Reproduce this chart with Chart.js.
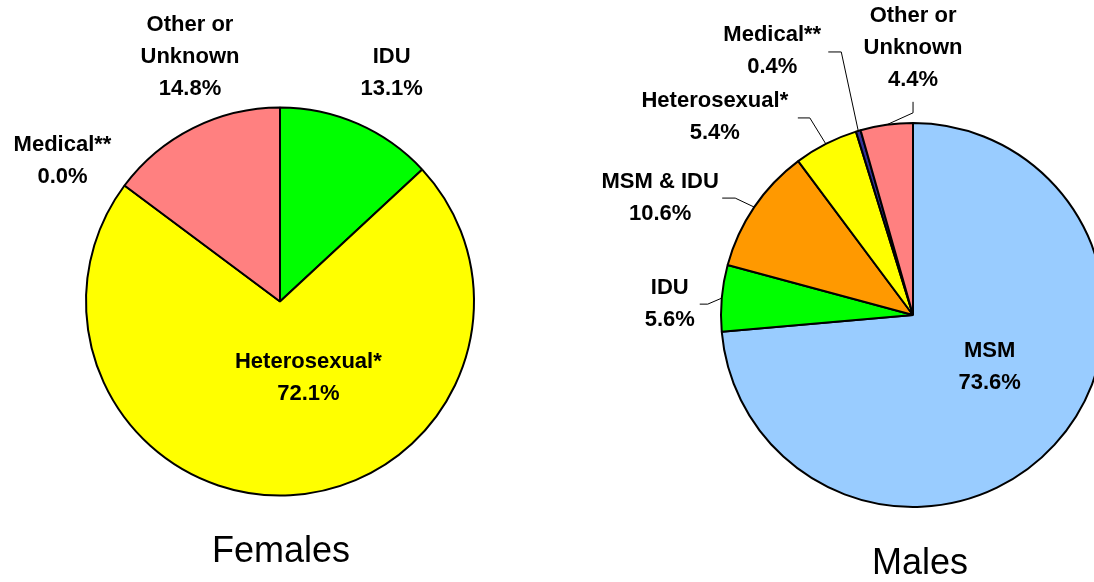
<!DOCTYPE html>
<html>
<head>
<meta charset="utf-8">
<script src="https://cdn.jsdelivr.net/npm/chart.js@4.4.0/dist/chart.umd.min.js"></script>
<style>
  html, body { margin: 0; padding: 0; width: 1094px; height: 582px; overflow: hidden; background: #fff; }
  .wrap { position: absolute; top: 0; }
  .caption {
    position: absolute; width: 200px; text-align: center; color: #000;
    font-family: "Liberation Sans", Arial, sans-serif; font-size: 36px; line-height: 36px;
  }
</style>
</head>
<body>
<div class="wrap" style="left:0"><canvas id="females" width="560" height="582"></canvas></div>
<div class="wrap" style="left:560px"><canvas id="males" width="706" height="582"></canvas></div>
<div class="caption" style="left:181px; top:532px">Females</div>
<div class="caption" style="left:820px; top:544px">Males</div>
<script>
// ---------- Data ----------
const femaleCategories = ["IDU", "Heterosexual*", "Medical**", "Other or\nUnknown"];
const femaleValues = [13.1, 72.1, 0.0, 14.8];

const maleCategories = ["MSM", "IDU", "MSM & IDU", "Heterosexual*", "Medical**", "Other or\nUnknown"];
const maleValues = [73.6, 5.6, 10.6, 5.4, 0.4, 4.4];

// ---------- Colours ----------
const sliceColors = {
  "MSM": "#99CCFF",
  "IDU": "#00FF00",
  "MSM & IDU": "#FF9900",
  "Heterosexual*": "#FFFF00",
  "Medical**": "#333399",
  "Other or\nUnknown": "#FF8080",
};

// label placement relative to the rim point at each slice's mid angle
const femalePlaces = [
  { dx: 34, dy: -51 },
  { dx: 18, dy: -117 },
  { dx: -62, dy: -25 },
  { dx: -3, dy: -71 },
];
const malePlaces = [
  { dx: -65, dy: -78 },
  { dx: -52, dy: 6, leader: [[-14, 6], [-22, 6]] },
  { dx: -94, dy: -9, leader: [[-19, -9], [-32, -9]] },
  { dx: -111, dy: -27, leader: [[-16, -26], [-28, -26]] },
  { dx: -86, dy: -80, leader: [[-17, -79], [-30, -79]] },
  { dx: 26.5, dy: -77, leader: [[26.5, -12], [26.5, -23]] },
];

// ---------- Label plugin ----------
const sliceLabels = {
  id: "sliceLabels",
  afterDatasetsDraw(chart, args, opts) {
    const ctx = chart.ctx;
    const meta = chart.getDatasetMeta(0);
    const values = chart.data.datasets[0].data;
    ctx.save();
    ctx.font = "bold 22px 'Liberation Sans', Arial, sans-serif";
    ctx.textAlign = "center";
    ctx.textBaseline = "middle";
    ctx.fillStyle = "#000";
    meta.data.forEach((arc, i) => {
      const p = arc.getProps(["x", "y", "startAngle", "endAngle", "outerRadius"], true);
      const mid = (p.startAngle + p.endAngle) / 2;
      const rx = p.x + Math.cos(mid) * p.outerRadius;
      const ry = p.y + Math.sin(mid) * p.outerRadius;
      const place = opts.places[i];
      if (place.leader) {
        ctx.beginPath();
        ctx.moveTo(rx, ry);
        place.leader.forEach(([dx, dy]) => ctx.lineTo(rx + dx, ry + dy));
        ctx.strokeStyle = "#000";
        ctx.lineWidth = 1;
        ctx.stroke();
      }
      const lines = chart.data.labels[i].split("\n").concat(values[i].toFixed(1) + "%");
      const lh = 32;
      const top = ry + place.dy - ((lines.length - 1) * lh) / 2;
      lines.forEach((t, k) => ctx.fillText(t, rx + place.dx, top + k * lh));
    });
    ctx.restore();
  },
};

// ---------- Plotting ----------
function makePie(id, categories, values, places, radius, padding) {
  const ctx = document.getElementById(id).getContext("2d");
  return new Chart(ctx, {
    type: "pie",
    data: {
      labels: categories,
      datasets: [{
        data: values,
        backgroundColor: categories.map((c) => sliceColors[c]),
        borderColor: "#000000",
        borderWidth: 2,
      }],
    },
    options: {
      responsive: false,
      animation: false,
      radius: radius,
      layout: { padding: padding },
      plugins: {
        legend: { display: false },
        tooltip: { enabled: false },
        sliceLabels: { places: places },
      },
    },
    plugins: [sliceLabels],
  });
}

makePie("females", femaleCategories, femaleValues, femalePlaces, 194,
  { left: 84, right: 84, top: 106, bottom: 85 });
makePie("males", maleCategories, maleValues, malePlaces, 192,
  { left: 159, right: 159, top: 121, bottom: 73 });
</script>
</body>
</html>
